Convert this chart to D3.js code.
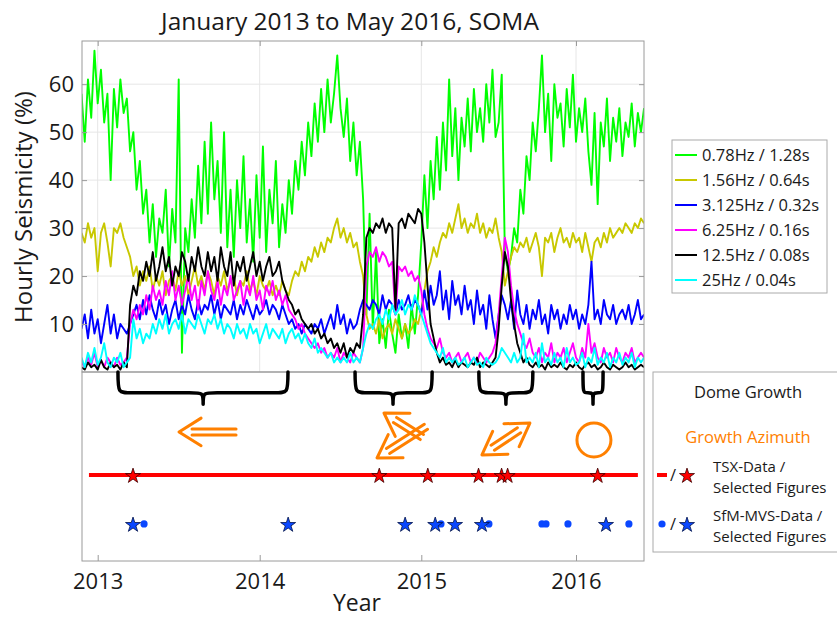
<!DOCTYPE html>
<html><head><meta charset="utf-8">
<script src="https://cdn.jsdelivr.net/npm/d3@7"></script>
<style>
body{margin:0;background:#fff}
svg{display:block}
text{font-family:"Open Sans",sans-serif;fill:#1a1a1a}
</style>
</head><body>
<svg id="c" width="837" height="617"></svg>
<script>
// ---------- DATA ----------
const startYear = 2012.90;
const stepYear = 0.02;
const seriesNames = ["0.78Hz / 1.28s","1.56Hz / 0.64s","3.125Hz / 0.32s","6.25Hz / 0.16s","12.5Hz / 0.08s","25Hz / 0.04s"];
const seriesColors = ["#00ff00","#c8c800","#0000ff","#ff00ff","#000000","#00ffff"];
const green = [
58,48,61,53,67,56,63,52,58,40,
59,51,61,54,57,46,50,38,44,33,
38,27,35,24,32,29,38,22,34,27,
61,4,30,25,36,28,43,31,48,33,
52,36,44,29,50,26,38,24,40,30,
45,27,36,23,41,28,47,25,38,31,
44,26,35,29,40,33,44,38,48,41,
52,45,56,48,59,50,61,52,58,66,
55,49,57,44,52,41,48,36,12,33,
9,25,6,11,5,13,8,4,12,7,
10,5,14,8,16,27,41,30,44,36,
49,38,52,42,61,45,55,40,53,47,
57,46,59,50,55,48,60,52,63,49,
52,62,25,21,24,30,27,38,33,45,
40,52,46,55,66,50,58,44,60,53,
56,47,59,51,62,48,55,50,57,46,
39,54,35,52,47,57,44,53,48,55,
45,52,49,56,47,54,50,55];
const yellow = [
29,27,31,28,30,21,29,31,27,22,
30,29,31,28,26,24,20,22,18,21,
19,22,17,20,18,21,16,19,20,17,
21,18,20,16,19,22,18,20,17,21,
19,16,20,18,21,17,19,20,16,19,
18,21,17,19,16,20,18,17,19,16,
18,16,19,17,16,19,21,20,23,21,
24,23,26,24,27,25,28,27,30,32,
28,30,27,29,26,27,23,20,12,9,
10,8,11,7,9,10,8,11,9,7,
10,8,9,11,10,13,17,21,23,26,
24,27,29,28,31,29,32,35,30,32,
29,31,30,33,29,31,28,30,29,32,
28,25,18,21,24,26,25,27,26,28,
25,27,29,26,20,28,27,29,25,28,
30,27,28,26,29,27,28,25,29,26,
23,27,28,26,29,27,30,28,29,30,
29,31,30,29,31,30,32,31];
const blue = [
9,12,7,13,8,11,6,10,14,8,
12,7,10,9,8,10,12,14,11,15,
12,16,13,11,15,12,14,10,13,15,
11,14,12,16,13,11,15,12,14,13,
16,12,15,11,14,13,12,15,11,14,
12,15,13,11,14,12,13,15,12,14,
13,11,14,12,10,11,9,10,8,10,
9,8,10,9,11,8,10,12,9,14,
10,12,8,11,9,10,13,15,14,13,
15,14,12,16,13,15,14,12,15,13,
14,16,13,15,14,12,17,13,18,14,
16,21,13,17,11,19,14,16,12,18,
13,15,10,17,12,14,9,16,11,7,
12,16,14,11,15,9,17,12,10,14,
9,13,11,15,10,12,8,14,11,13,
9,12,10,14,11,13,9,12,10,14,
23,11,13,10,15,12,11,14,10,12,
13,11,14,10,12,15,11,12];
const magenta = [
2,1,3,1.5,4,1,2.5,1,3,2,
1,3,1.5,2,3,10,13,11,14,12,
16,13,18,15,17,14,19,16,21,15,
18,14,17,20,15,18,13,19,16,21,
17,15,19,14,18,16,20,15,17,19,
14,18,16,20,15,17,13,18,16,19,
15,17,14,16,13,12,11,9,10,8,
7,6,5,6,4,5,3,4,3,5,
2,4,3,2,4,3,2,5,22,25,
24,26,23,25,24,22,23,12,22,21,
22,20,21,19,20,17,12,9,7,6,
5,7,4,3,4,2,3,4,2,3,
4,2,3,2,4,3,2,3,4,6,
12,20,28,25,18,13,10,8,6,5,
7,4,3,5,2,4,3,6,2,4,
3,5,2,4,6,3,2,5,3,10,
4,6,3,2,5,3,4,2,5,3,
2,4,3,5,2,3,4,3];
const black = [
1,0.5,2,1,1.5,0.5,2.5,1,0.5,2,
1,1.5,0.5,2,1,14,18,16,21,19,
23,20,25,19,22,26,21,24,18,22,
20,25,23,19,24,21,26,22,20,25,
21,24,19,26,22,20,25,18,23,21,
24,19,22,25,20,23,19,22,24,20,
21,23,19,17,15,14,12,13,11,10,
9,10,8,9,7,8,6,7,5,6,
4,6,3,5,4,6,5,12,28,30,
29,31,30,32,29,31,30,13,31,32,
30,33,32,31,34,33,27,18,10,7,
4,2,3,1.5,2,1,2.5,1,2,1.5,
1,2,1.5,3,1,2,1.5,1,2,3,
9,18,25,22,15,10,6,4,2,3,
1.5,1,2,1,1.5,0.5,2,1,1.5,1,
2,1,0.5,1.5,1,2,1,0.5,1.5,2,
1,1.5,0.5,1,2,1,0.5,1.5,1,0.5,
1,2,1,1.5,0.5,1,1.5,1];
const cyan = [
3,1,4,2,5,1.5,3,6,2,1,
3,2,4,1,2,3,11,7,9,6,
8,7,10,8,11,9,12,8,10,11,
9,12,8,11,10,9,12,10,8,11,
10,12,9,11,8,10,9,7,10,8,
9,7,10,8,9,6,8,10,7,9,
8,7,9,6,8,9,7,8,6,8,
6,5,7,4,5,4,3,4,2,3,
2,3,2,4,2,3,2,5,8,10,
9,11,12,10,13,11,14,12,13,15,
12,14,13,16,14,12,10,8,6,5,
4,3,5,2,3,2,3,1.5,2,3,
1,2,3,1.5,2,1,3,2,1.5,2,
3,5,4,3,2,4,2,3,8,2,
3,2,4,1,6,2,3,1.5,4,2,
3,1,5,2,3,1.5,2,4,1,3,
2,5,1.5,3,2,4,1,3,2,4,
1.5,3,2,4,1,3,2,3];
const series = [green, yellow, blue, magenta, black, cyan];

const yTicks = [10,20,30,40,50,60];
const xTicks = [2013,2014,2015,2016];

// bottom panel: dates of observations (decimal years)
const tsxLineSpan = [2012.946, 2016.40];
const tsxStars = [2013.218, 2014.74, 2015.042, 2015.37, 2015.519, 2015.558, 2016.14];
const sfmStars = [2013.218, 2014.176, 2014.90, 2015.09, 2015.218, 2015.392, 2016.194];
const sfmDots  = [2013.286, 2015.127, 2015.437, 2015.78, 2015.806, 2015.948, 2016.342];
// dome-growth periods: [start, middle, end]
const braces = [[2013.125,2013.651,2014.175],[2014.59,2014.825,2015.07],[2015.372,2015.547,2015.721],[2016.045,2016.11,2016.175]];
// growth azimuth arrows: tail [year, level], tip [year, level], number of heads
const arrows = [
  {tail:[2013.854,31.7], tip:[2013.502,31.7], heads:1},
  {tail:[2015.004,34.4], tip:[2014.769,21.7], heads:1},
  {tail:[2015.03,29.0],  tip:[2014.726,45.5], heads:1},
  {tail:[2015.392,43.9], tip:[2015.702,27.0], heads:2}
];
const circles = [[2016.116,36]];
const legend2Lines = ["TSX-Data /","Selected Figures","SfM-MVS-Data /","Selected Figures"];

// ---------- LAYOUT ----------
const L = {left:82, right:644, top:41, mid:372, bottom:561};
const svg = d3.select("#c");

const x = d3.scaleLinear().domain(xTicks).range([97.7,259.7,421.3,576]);
const y = d3.scaleLinear().domain([0,69]).range([L.mid, L.top]);
const yB = d3.scaleLinear().domain([0,100]).range([L.mid, L.bottom]);
const dateAt = i => startYear + i*stepYear;

svg.append("text").attr("x",350).attr("y",30).attr("text-anchor","middle")
  .style("font-size","24.5px").text("January 2013 to May 2016, SOMA");

const grid = svg.append("g");
grid.selectAll("line.h").data(yTicks).join("line")
  .attr("x1",L.left).attr("x2",L.right).attr("y1",d=>y(d)).attr("y2",d=>y(d))
  .attr("stroke","#e6e6e6").attr("stroke-width",1);
grid.selectAll("line.v").data(xTicks).join("line")
  .attr("y1",L.top).attr("y2",L.mid).attr("x1",d=>x(d)).attr("x2",d=>x(d))
  .attr("stroke","#e6e6e6").attr("stroke-width",1);

svg.append("clipPath").attr("id","clipTop").append("rect")
  .attr("x",L.left).attr("y",L.top).attr("width",L.right-L.left).attr("height",L.mid-L.top);

const line = d3.line().x((d,i)=>x(dateAt(i))).y(d=>y(d));
svg.append("g").attr("clip-path","url(#clipTop)")
  .selectAll("path").data(series).join("path")
  .attr("d",line).attr("fill","none")
  .attr("stroke",(d,i)=>seriesColors[i]).attr("stroke-width",1.9).attr("stroke-linejoin","round");

const axisColor = "#9a9a9a";
svg.append("rect").attr("x",L.left).attr("y",L.top).attr("width",L.right-L.left).attr("height",L.mid-L.top)
  .attr("fill","none").attr("stroke",axisColor).attr("stroke-width",1);
svg.append("rect").attr("x",L.left).attr("y",L.mid).attr("width",L.right-L.left).attr("height",L.bottom-L.mid)
  .attr("fill","none").attr("stroke",axisColor).attr("stroke-width",1);

function styleAxis(g){
  g.select(".domain").remove();
  g.selectAll(".tick line").attr("stroke",axisColor);
  g.selectAll(".tick text").style("font-size","22px").attr("fill","#1a1a1a");
}
svg.append("g").attr("transform",`translate(${L.left},0)`)
  .call(d3.axisLeft(y).tickValues(yTicks).tickSizeInner(-5).tickSizeOuter(0).tickPadding(8))
  .call(styleAxis);
svg.append("g").attr("transform",`translate(${L.right},0)`)
  .call(d3.axisRight(y).tickValues(yTicks).tickSizeInner(-5).tickSizeOuter(0).tickFormat(""))
  .call(styleAxis);
svg.append("g").attr("transform",`translate(0,${L.top})`)
  .call(d3.axisTop(x).tickValues(xTicks).tickSizeInner(-5).tickSizeOuter(0).tickFormat(""))
  .call(styleAxis);
svg.append("g").attr("transform",`translate(0,${L.bottom})`)
  .call(d3.axisBottom(x).tickValues(xTicks).tickFormat(d3.format("d")).tickSizeInner(-6).tickSizeOuter(0).tickPadding(12))
  .call(styleAxis);

svg.append("text").attr("transform","translate(32,207) rotate(-90)").attr("text-anchor","middle")
  .style("font-size","24px").text("Hourly Seismicity (%)");
svg.append("text").attr("x",357).attr("y",611).attr("text-anchor","middle")
  .style("font-size","23px").text("Year");

// ---------- bottom panel ----------
const bottom = svg.append("g");
function bracePath(b){
  const x1=x(b[0]), xm=x(b[1]), x2=x(b[2]);
  const y0=yB(0), yh=yB(11), yt=yB(17);
  const r1=Math.min(14,(xm-x1)/2), r2=Math.min(14,(x2-xm)/2);
  return `M${x1},${y0} C${x1},${yh} ${x1},${yh} ${x1+r1},${yh} L${xm-r1},${yh} C${xm},${yh} ${xm},${yh} ${xm},${yt} `+
         `M${xm},${yt} C${xm},${yh} ${xm},${yh} ${xm+r2},${yh} L${x2-r2},${yh} C${x2},${yh} ${x2},${yh} ${x2},${y0}`;
}
bottom.selectAll("path.brace").data(braces).join("path").attr("class","brace")
  .attr("d",bracePath).attr("fill","none").attr("stroke","#000").attr("stroke-width",3.5)
  .attr("stroke-linecap","round").attr("stroke-linejoin","round");

const orange = "#ff8000";
function arrowPath(a){
  const t=[x(a.tip[0]),yB(a.tip[1])], s=[x(a.tail[0]),yB(a.tail[1])];
  const dx=t[0]-s[0], dy=t[1]-s[1], len=Math.hypot(dx,dy);
  const u=[dx/len,dy/len], p=[-u[1],u[0]];
  const arm=26, ang=32*Math.PI/180, gap=3, inset=13;
  const ca=Math.cos(ang), sa=Math.sin(ang);
  function head(pt,dir){
    const bx=-dir[0], by=-dir[1];
    const a1=[pt[0]+arm*(bx*ca-by*sa), pt[1]+arm*(bx*sa+by*ca)];
    const a2=[pt[0]+arm*(bx*ca+by*sa), pt[1]+arm*(-bx*sa+by*ca)];
    return `M${a1[0]},${a1[1]} L${pt[0]},${pt[1]} L${a2[0]},${a2[1]} `;
  }
  let d = head(t,u);
  if(a.heads===2) d += head(s,[-u[0],-u[1]]);
  const st=[t[0]-inset*u[0], t[1]-inset*u[1]];
  const en = a.heads===2 ? [s[0]+inset*u[0], s[1]+inset*u[1]] : s;
  for(const k of [-1,1]){
    d += `M${st[0]+k*gap*p[0]},${st[1]+k*gap*p[1]} L${en[0]+k*gap*p[0]},${en[1]+k*gap*p[1]} `;
  }
  return d;
}
bottom.selectAll("path.arrow").data(arrows).join("path").attr("class","arrow")
  .attr("d",arrowPath).attr("fill","none").attr("stroke",orange).attr("stroke-width",3)
  .attr("stroke-linecap","round").attr("stroke-linejoin","round");
bottom.selectAll("circle.az").data(circles).join("circle").attr("class","az")
  .attr("cx",d=>x(d[0])).attr("cy",d=>yB(d[1])).attr("r",17)
  .attr("fill","none").attr("stroke",orange).attr("stroke-width",3);

const rowTSX = 54.5, rowSfM = 80.4;
bottom.append("line").attr("x1",x(tsxLineSpan[0])).attr("x2",x(tsxLineSpan[1]))
  .attr("y1",yB(rowTSX)).attr("y2",yB(rowTSX)).attr("stroke","#ff0000").attr("stroke-width",4);
const star = d3.symbol(d3.symbolStar, 70);
bottom.selectAll("path.tsx").data(tsxStars).join("path").attr("class","tsx")
  .attr("d",star).attr("transform",d=>`translate(${x(d)},${yB(rowTSX)+1})`)
  .attr("fill","#ff0000").attr("stroke","#3a0000").attr("stroke-width",0.8);
bottom.selectAll("circle.sfm").data(sfmDots).join("circle").attr("class","sfm")
  .attr("cx",d=>x(d)).attr("cy",yB(rowSfM)).attr("r",3.6).attr("fill","#0a47ff");
bottom.selectAll("path.sfms").data(sfmStars).join("path").attr("class","sfms")
  .attr("d",star).attr("transform",d=>`translate(${x(d)},${yB(rowSfM)+1})`)
  .attr("fill","#0a47ff").attr("stroke","#00124a").attr("stroke-width",0.8);

// ---------- legend 1 ----------
const lg = svg.append("g");
lg.append("rect").attr("x",672).attr("y",140).attr("width",155).attr("height",153)
  .attr("fill","#fff").attr("stroke","#aaaaaa");
const li = lg.selectAll("g.item").data(seriesNames).join("g").attr("class","item")
  .attr("transform",(d,i)=>`translate(0,${155+i*25})`);
li.append("line").attr("x1",675).attr("x2",697).attr("stroke",(d,i)=>seriesColors[i]).attr("stroke-width",2);
li.append("text").attr("x",702).attr("y",6).style("font-size","16.5px").text(d=>d);

// ---------- legend 2 ----------
const lg2 = svg.append("g");
const fs2 = "16.5px";
lg2.append("rect").attr("x",653).attr("y",372).attr("width",200).attr("height",180)
  .attr("fill","#fff").attr("stroke","#aaaaaa");
lg2.append("text").attr("x",748).attr("y",398).attr("text-anchor","middle").style("font-size",fs2).text("Dome Growth");
lg2.append("text").attr("x",748).attr("y",443).attr("text-anchor","middle").style("font-size",fs2)
  .style("fill",orange).text("Growth Azimuth");
lg2.append("line").attr("x1",657).attr("x2",667).attr("y1",475).attr("y2",475).attr("stroke","#ff0000").attr("stroke-width",4);
lg2.append("text").attr("x",673).attr("y",481).attr("text-anchor","middle").style("font-size",fs2).text("/");
lg2.append("path").attr("d",star).attr("transform","translate(687,476)").attr("fill","#ff0000").attr("stroke","#3a0000").attr("stroke-width",0.8);
lg2.append("circle").attr("cx",662).attr("cy",524).attr("r",3.6).attr("fill","#0a47ff");
lg2.append("text").attr("x",673).attr("y",530).attr("text-anchor","middle").style("font-size",fs2).text("/");
lg2.append("path").attr("d",star).attr("transform","translate(687,525)").attr("fill","#0a47ff").attr("stroke","#00124a").attr("stroke-width",0.8);
const lineY = [472, 493, 521, 542];
lg2.selectAll("text.multi").data(legend2Lines).join("text").attr("class","multi")
  .attr("x",713).attr("y",(d,i)=>lineY[i]).style("font-size","15px").text(d=>d);
</script>
</body></html>
